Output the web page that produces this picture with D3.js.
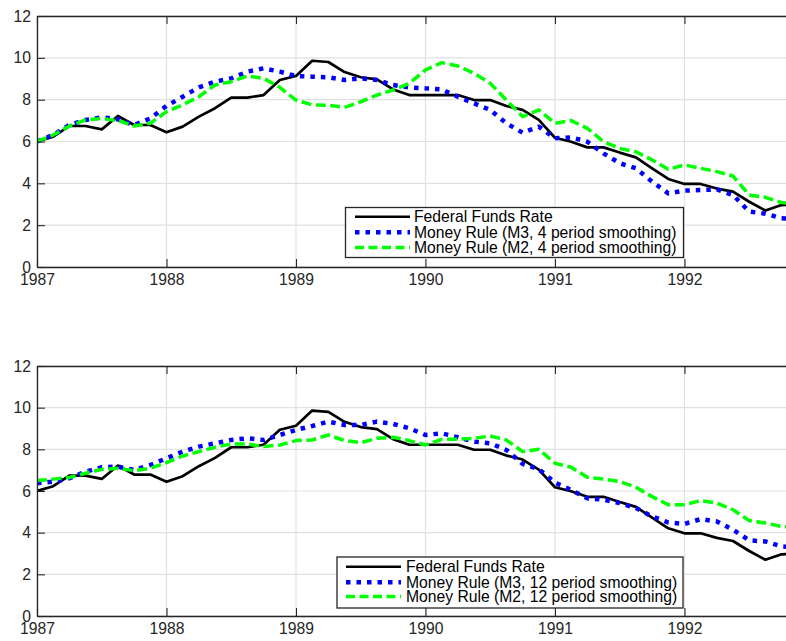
<!DOCTYPE html>
<html>
<head>
<meta charset="utf-8">
<script src="https://cdn.jsdelivr.net/npm/d3@7"></script>
<style>
  html, body { margin: 0; padding: 0; background: #fff; }
  svg { display: block; }
  text { font-family: "Liberation Sans", Arial, Helvetica, sans-serif; }
</style>
</head>
<body>
<div id="chart"></div>
<script>
// ---- Data ----
const periods = [
  1987.000, 1987.125, 1987.250, 1987.375, 1987.500, 1987.625, 1987.750, 1987.875,
  1988.000, 1988.125, 1988.250, 1988.375, 1988.500, 1988.625, 1988.750, 1988.875,
  1989.000, 1989.125, 1989.250, 1989.375, 1989.500, 1989.625, 1989.750, 1989.875,
  1990.000, 1990.125, 1990.250, 1990.375, 1990.500, 1990.625, 1990.750, 1990.875,
  1991.000, 1991.125, 1991.250, 1991.375, 1991.500, 1991.625, 1991.750, 1991.875,
  1992.000, 1992.125, 1992.250, 1992.375, 1992.500, 1992.625, 1992.750, 1992.875
];
const fedFunds = [
  6.00, 6.23, 6.74, 6.74, 6.58, 7.22, 6.79, 6.79,
  6.44, 6.71, 7.19, 7.59, 8.10, 8.10, 8.22, 8.94,
  9.13, 9.86, 9.80, 9.32, 9.07, 8.97, 8.49, 8.22,
  8.22, 8.22, 8.22, 7.98, 7.98, 7.70, 7.51, 7.03,
  6.18, 5.99, 5.72, 5.72, 5.47, 5.24, 4.72, 4.21,
  3.97, 3.97, 3.75, 3.60, 3.12, 2.70, 2.96, 3.00
];
const moneyM3_4 = [
  6.00, 6.31, 6.79, 7.03, 7.16, 7.06, 6.79, 7.10,
  7.70, 8.14, 8.59, 8.86, 9.02, 9.34, 9.50, 9.34,
  9.13, 9.10, 9.07, 8.94, 9.02, 8.94, 8.70, 8.59,
  8.54, 8.49, 8.14, 7.82, 7.51, 6.87, 6.42, 6.71,
  6.15, 6.20, 5.99, 5.43, 4.96, 4.72, 4.08, 3.52,
  3.65, 3.68, 3.71, 3.44, 2.65, 2.55, 2.33, 2.30
];
const moneyM2_4 = [
  6.00, 6.31, 6.74, 7.03, 7.10, 7.00, 6.74, 6.87,
  7.43, 7.75, 8.14, 8.70, 8.86, 9.13, 9.02, 8.59,
  7.98, 7.75, 7.73, 7.63, 7.90, 8.22, 8.46, 8.78,
  9.42, 9.77, 9.61, 9.26, 8.78, 7.98, 7.19, 7.51,
  6.87, 7.00, 6.63, 5.99, 5.67, 5.51, 5.12, 4.67,
  4.88, 4.72, 4.56, 4.35, 3.44, 3.33, 3.08, 3.00
];
const moneyM3_12 = [
  6.37, 6.45, 6.61, 6.93, 7.14, 7.17, 7.01, 7.25,
  7.57, 7.89, 8.13, 8.29, 8.45, 8.53, 8.45, 8.69,
  8.93, 9.12, 9.33, 9.17, 9.17, 9.33, 9.22, 9.01,
  8.69, 8.77, 8.58, 8.37, 8.29, 7.97, 7.30, 7.05,
  6.40, 6.05, 5.65, 5.58, 5.42, 5.18, 4.78, 4.49,
  4.42, 4.65, 4.54, 4.14, 3.63, 3.58, 3.34, 3.30
];
const moneyM2_12 = [
  6.50, 6.57, 6.65, 6.85, 7.04, 7.09, 6.98, 7.09,
  7.36, 7.68, 7.89, 8.10, 8.26, 8.26, 8.13, 8.21,
  8.42, 8.45, 8.69, 8.42, 8.32, 8.53, 8.58, 8.42,
  8.21, 8.48, 8.48, 8.53, 8.64, 8.45, 7.89, 8.00,
  7.33, 7.14, 6.66, 6.57, 6.45, 6.18, 5.73, 5.34,
  5.34, 5.54, 5.42, 5.10, 4.58, 4.46, 4.30, 4.25
];
const xTicks = [1987, 1988, 1989, 1990, 1991, 1992];
const yTicks = [0, 2, 4, 6, 8, 10, 12];
const legendTop = [
  "Federal Funds Rate",
  "Money Rule (M3, 4 period smoothing)",
  "Money Rule (M2, 4 period smoothing)"
];
const legendBottom = [
  "Federal Funds Rate",
  "Money Rule (M3, 12 period smoothing)",
  "Money Rule (M2, 12 period smoothing)"
];

// ---- Styles ----
const W = 786, H = 641;
const FONT = 15.7;
const AXIS_COLOR = "#262626";
const GRID_COLOR = "#e1e1e1";
const seriesStyle = [
  { color: "#000000", width: 2.7, dash: null },
  { color: "#0000ff", width: 4.5, dash: "4.5,6" },
  { color: "#00ff00", width: 3.5, dash: "10,4.5" }
];

const svg = d3.select("#chart").append("svg")
  .attr("width", W).attr("height", H)
  .attr("viewBox", `0 0 ${W} ${H}`);

const x = d3.scaleLinear().domain([1987, 1992.9]).range([37, 801]);

function drawPanel(cfg) {
  const y = d3.scaleLinear().domain([0, 12]).range([cfg.bottom, cfg.top]);
  const g = svg.append("g");
  const [x0, x1] = x.range();

  // grid
  g.append("g").selectAll("line").data(yTicks).join("line")
    .attr("x1", x0).attr("x2", x1)
    .attr("y1", d => y(d)).attr("y2", d => y(d))
    .attr("stroke", GRID_COLOR).attr("stroke-width", 1.2);
  g.append("g").selectAll("line").data(xTicks).join("line")
    .attr("x1", d => x(d)).attr("x2", d => x(d))
    .attr("y1", cfg.top).attr("y2", cfg.bottom)
    .attr("stroke", GRID_COLOR).attr("stroke-width", 1.2);

  // clip
  const clipId = "clip" + cfg.id;
  svg.append("clipPath").attr("id", clipId).append("rect")
    .attr("x", x0).attr("y", cfg.top).attr("width", x1 - x0).attr("height", cfg.bottom - cfg.top);

  const line = d3.line().x(d => x(d[0])).y(d => y(d[1]));
  const lines = g.append("g").attr("clip-path", `url(#${clipId})`);
  cfg.series.forEach((s, i) => {
    const st = seriesStyle[i];
    lines.append("path")
      .datum(periods.map((p, j) => [p, s[j]]))
      .attr("d", line)
      .attr("fill", "none")
      .attr("stroke", st.color)
      .attr("stroke-width", st.width)
      .attr("stroke-dasharray", st.dash)
      .attr("stroke-linejoin", "round");
  });

  // axes
  const styleAxis = sel => {
    sel.selectAll("path.domain").attr("stroke", AXIS_COLOR).attr("stroke-width", 1.3).attr("fill", "none");
    sel.selectAll(".tick line").attr("stroke", AXIS_COLOR).attr("stroke-width", 1.1);
    sel.selectAll(".tick text").attr("fill", AXIS_COLOR)
      .style("font-size", FONT + "px")
      .style("font-family", '"Liberation Sans", Arial, Helvetica, sans-serif');
  };
  g.append("g").attr("transform", `translate(0,${cfg.bottom})`)
    .call(d3.axisBottom(x).tickValues(xTicks).tickFormat(d3.format("d"))
      .tickSizeInner(-8).tickSizeOuter(0).tickPadding(7))
    .call(styleAxis);
  g.append("g").attr("transform", `translate(0,${cfg.top})`)
    .call(d3.axisTop(x).tickValues(xTicks).tickFormat("")
      .tickSizeInner(-8).tickSizeOuter(0))
    .call(styleAxis);
  g.append("g").attr("transform", `translate(${x0},0)`)
    .call(d3.axisLeft(y).tickValues(yTicks).tickFormat(d3.format("d"))
      .tickSizeInner(-8).tickSizeOuter(0).tickPadding(6))
    .call(styleAxis);

  // legend
  const L = cfg.legend;
  const lg = svg.append("g");
  lg.append("rect")
    .attr("x", L.x).attr("y", L.y).attr("width", L.w).attr("height", L.h)
    .attr("fill", "#fff").attr("stroke", AXIS_COLOR).attr("stroke-width", 1.3);
  L.labels.forEach((lab, i) => {
    const st = seriesStyle[i];
    const ry = L.rows[i];
    lg.append("line")
      .attr("x1", L.lx0).attr("x2", L.lx1).attr("y1", ry).attr("y2", ry)
      .attr("stroke", st.color).attr("stroke-width", i === 0 ? 2.5 : st.width)
      .attr("stroke-dasharray", i === 1 ? "4.5,6" : (i === 2 ? "9,4.5" : null));
    lg.append("text")
      .attr("x", L.tx).attr("y", ry).attr("dy", "0.35em")
      .attr("fill", "#000")
      .style("font-size", FONT + "px")
      .text(lab);
  });
}

drawPanel({
  id: "top", top: 16, bottom: 267,
  series: [fedFunds, moneyM3_4, moneyM2_4],
  legend: { x: 345.5, y: 207.5, w: 338, h: 50, rows: [216.7, 232.3, 247.6],
            lx0: 355, lx1: 410, tx: 414, labels: legendTop }
});
drawPanel({
  id: "bottom", top: 366, bottom: 616,
  series: [fedFunds, moneyM3_12, moneyM2_12],
  legend: { x: 337, y: 557, w: 346, h: 51, rows: [566.7, 582.2, 596.6],
            lx0: 346, lx1: 401, tx: 406, labels: legendBottom }
});
</script>
</body>
</html>
